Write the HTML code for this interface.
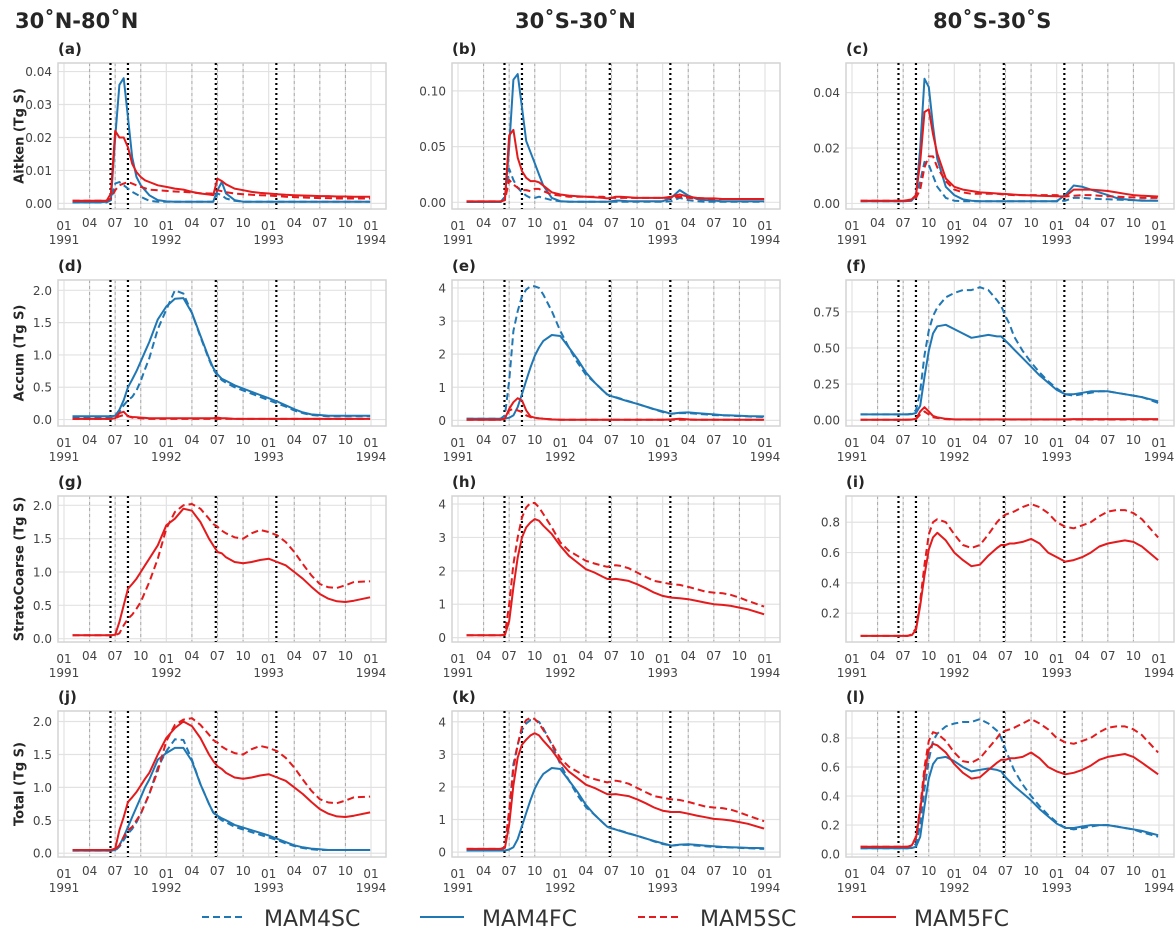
<!DOCTYPE html>
<html><head><meta charset="utf-8"><style>
html,body{margin:0;padding:0;background:#fff;}
svg{display:block;font-family:"DejaVu Sans","Liberation Sans",sans-serif;}
</style></head><body>
<svg id="fig" width="1175" height="929" viewBox="0 0 1175 929" xmlns="http://www.w3.org/2000/svg"></svg>
<script>
// months since Jan 1991
const T=[1,2,3,4,5, 5.5,6,6.5,7,7.5,8,8.5,9,9.5,10, 11,12,13,14,15,16,17, 17.5,18,18.5,19, 20,21,22,23,24,25,26,27,28,29,30,31,32,33,34,35.9];
const xTickMonths=["01","04","07","10"];
const xTickYears=["1991","1992","1993","1994"];
const dottedT=[5.45,7.5,17.8,24.9];
const rowTitles=["Aitken (Tg S)","Accum (Tg S)","StratoCoarse (Tg S)","Total (Tg S)"];
const colTitles=["30˚N-80˚N","30˚S-30˚N","80˚S-30˚S"];
const legendNames=["MAM4SC","MAM4FC","MAM5SC","MAM5FC"];
const r=(v,n)=>Array(n).fill(v);
// (a)
const a4sc=[...r(0.0003,5),0.001,0.006,0.0065,0.0055,0.0045,0.0035,0.0028,0.002,0.0014,0.0008,...r(0.0005,7),0.0005,0.003,0.0025,0.0015,0.0008,...r(0.0005,15)];
const a4fc=[0.0003,0.0003,0.0003,0.0003,0.0005,0.001,0.02,0.036,0.038,0.026,0.014,0.008,0.0055,0.004,0.0025,0.001,0.0006,0.0005,0.0005,0.0005,0.0005,0.0005,0.0005,0.004,0.0065,0.003,0.001,...r(0.0005,15)];
const a5sc=[...r(0.0008,5),0.0015,0.004,0.0055,0.006,0.0065,0.006,0.0055,0.005,0.0046,0.0042,0.004,0.0038,0.0036,0.0035,0.0033,0.0031,0.003,0.003,0.004,0.0037,0.0034,0.003,0.0028,0.0026,0.0025,0.0024,0.0022,0.002,0.0019,0.0018,0.0017,0.0016,0.0016,0.0015,0.0015,0.0015,0.0015];
const a5fc=[...r(0.0008,5),0.003,0.022,0.02,0.02,0.017,0.012,0.0095,0.008,0.007,0.0065,0.0055,0.005,0.0045,0.0042,0.0035,0.003,0.0027,0.0025,0.0075,0.0068,0.0058,0.0045,0.004,0.0035,0.0032,0.003,0.0028,0.0026,0.0025,0.0024,0.0023,0.0022,0.0022,0.0021,0.0021,0.002,0.002];
// (b)
const b4sc=[...r(0.0003,5),0.005,0.03,0.02,0.013,0.009,0.006,0.004,0.004,0.005,0.004,0.002,0.001,...r(0.0005,5),...r(0.0005,4),...r(0.0005,5),0.001,0.004,0.002,0.001,...r(0.0005,7)];
const b4fc=[...r(0.0003,5),0.003,0.05,0.11,0.115,0.085,0.055,0.045,0.035,0.025,0.015,0.004,0.001,0.0006,0.0005,0.0005,0.0005,0.0005,0.0005,0.001,0.0015,0.0015,0.001,0.001,0.001,0.001,0.001,0.004,0.011,0.006,0.003,0.002,0.0015,0.001,0.001,0.001,0.001,0.001];
const b5sc=[...r(0.0008,5),0.002,0.02,0.016,0.013,0.011,0.011,0.01,0.012,0.012,0.01,0.007,0.006,...r(0.005,5),...r(0.004,4),0.004,0.004,0.004,0.004,0.004,0.004,0.005,0.004,0.0035,0.0035,0.003,0.003,0.003,0.003,0.003,0.003];
const b5fc=[...r(0.0008,5),0.002,0.06,0.065,0.04,0.028,0.022,0.019,0.019,0.018,0.015,0.009,0.007,0.006,0.0055,0.005,0.0045,0.004,0.0035,0.004,0.005,0.005,0.0045,0.004,0.004,0.004,0.004,0.005,0.007,0.005,0.004,0.0035,0.0035,0.003,0.003,0.003,0.003,0.003];
// (c)
const c4sc=[...r(0.0008,5),0.0008,0.0008,0.0009,0.001,0.002,0.008,0.015,0.014,0.01,0.006,0.002,0.001,...r(0.0008,5),...r(0.0008,4),...r(0.0008,5),0.001,0.002,0.002,0.0018,0.0016,0.0015,0.0014,0.0013,0.0012,0.0011,0.001];
const c4fc=[...r(0.0008,5),0.0008,0.0008,0.0009,0.001,0.003,0.02,0.045,0.042,0.028,0.016,0.006,0.003,0.0015,0.001,0.0008,0.0008,0.0008,...r(0.0008,4),0.0008,0.0008,0.0008,0.0008,0.0008,0.003,0.0065,0.006,0.005,0.004,0.003,0.002,0.0015,0.0012,0.001,0.001];
const c5sc=[...r(0.001,5),0.001,0.001,0.001,0.0012,0.002,0.005,0.013,0.017,0.017,0.013,0.008,0.005,0.004,0.0035,0.0035,0.0035,0.0035,0.0033,0.0032,0.0031,0.003,0.003,0.003,0.003,0.003,0.003,0.0025,0.0028,0.003,0.003,0.0028,0.0026,0.0025,0.0023,0.0022,0.002,0.002];
const c5fc=[...r(0.001,5),0.001,0.001,0.0012,0.0015,0.003,0.015,0.033,0.034,0.025,0.018,0.009,0.006,0.005,0.0045,0.004,0.0038,0.0036,0.0035,0.0034,0.0033,0.0032,0.003,0.0029,0.0028,0.0027,0.0026,0.0025,0.005,0.005,0.005,0.0048,0.0045,0.004,0.0035,0.003,0.0028,0.0025];
// (d)
const d4sc=[...r(0.04,5),0.04,0.05,0.12,0.22,0.3,0.35,0.45,0.6,0.78,0.95,1.4,1.7,2.0,1.95,1.65,1.28,0.93,0.78,0.68,0.61,0.57,0.5,0.45,0.4,0.35,0.3,0.25,0.2,0.14,0.1,0.07,0.06,0.05,0.05,0.05,0.05,0.05];
const d4fc=[...r(0.05,5),0.05,0.06,0.15,0.3,0.5,0.62,0.75,0.9,1.05,1.2,1.55,1.75,1.87,1.88,1.65,1.3,0.95,0.8,0.7,0.63,0.6,0.53,0.48,0.43,0.38,0.33,0.28,0.22,0.16,0.11,0.08,0.07,0.06,0.06,0.06,0.06,0.06];
const d5sc=[...r(0.01,5),0.01,0.02,0.05,0.07,0.05,0.03,0.025,0.02,0.015,0.01,...r(0.01,7),...r(0.01,4),...r(0.01,16)];
const d5fc=[...r(0.01,5),0.01,0.02,0.1,0.12,0.05,0.04,0.035,0.03,0.025,0.02,...r(0.02,7),0.02,0.03,0.02,0.02,...r(0.01,16)];
// (e)
const e4sc=[...r(0.05,5),0.15,1.2,2.7,3.3,3.75,3.95,4.05,4.05,4.0,3.8,3.3,2.7,2.2,1.75,1.38,1.15,0.9,0.78,0.73,0.7,0.66,0.58,0.5,0.42,0.33,0.25,0.2,0.22,0.22,0.2,0.18,0.16,0.15,0.14,0.13,0.12,0.1];
const e4fc=[...r(0.05,5),0.05,0.08,0.15,0.4,0.8,1.2,1.6,1.95,2.2,2.4,2.58,2.55,2.2,1.85,1.45,1.15,0.9,0.78,0.73,0.69,0.65,0.57,0.5,0.42,0.34,0.27,0.2,0.23,0.24,0.22,0.2,0.18,0.16,0.15,0.14,0.13,0.12];
const e5sc=[...r(0.02,5),0.05,0.3,0.35,0.3,0.25,0.15,0.1,0.07,0.06,0.05,0.03,...r(0.02,6),...r(0.02,4),...r(0.02,16)];
const e5fc=[...r(0.02,5),0.05,0.35,0.55,0.67,0.6,0.3,0.12,0.08,0.06,0.05,0.03,...r(0.02,6),...r(0.02,4),...r(0.02,5),0.03,0.05,0.03,...r(0.02,8)];
// (f)
const f4sc=[...r(0.04,5),0.04,0.04,0.04,0.045,0.07,0.2,0.45,0.62,0.72,0.78,0.85,0.88,0.9,0.9,0.92,0.9,0.83,0.79,0.72,0.66,0.58,0.48,0.4,0.33,0.27,0.22,0.18,0.17,0.18,0.19,0.2,0.2,0.19,0.18,0.17,0.16,0.12];
const f4fc=[...r(0.04,5),0.04,0.04,0.04,0.042,0.05,0.1,0.3,0.48,0.6,0.65,0.66,0.63,0.6,0.57,0.58,0.59,0.58,0.58,0.55,0.52,0.49,0.43,0.37,0.31,0.26,0.21,0.18,0.18,0.19,0.2,0.2,0.2,0.19,0.18,0.17,0.16,0.13];
const f5sc=[...r(0.003,5),0.003,0.003,0.003,0.004,0.008,0.04,0.06,0.04,0.02,0.015,0.008,...r(0.005,6),...r(0.005,4),...r(0.005,16)];
const f5fc=[...r(0.003,5),0.003,0.003,0.004,0.005,0.01,0.06,0.09,0.06,0.03,0.02,0.01,...r(0.006,6),...r(0.006,4),...r(0.006,6),...r(0.008,10)];
// (g)
const g5sc=[...r(0.05,5),0.05,0.05,0.08,0.2,0.3,0.36,0.45,0.55,0.7,0.85,1.2,1.65,1.9,2.0,2.02,1.95,1.8,1.72,1.68,1.62,1.58,1.52,1.5,1.58,1.63,1.6,1.55,1.45,1.3,1.12,0.95,0.82,0.77,0.76,0.8,0.85,0.86];
const g5fc=[...r(0.05,5),0.05,0.06,0.25,0.5,0.75,0.82,0.9,1.0,1.1,1.2,1.4,1.7,1.8,1.95,1.92,1.75,1.5,1.4,1.3,1.28,1.22,1.15,1.13,1.15,1.18,1.2,1.15,1.1,1.0,0.9,0.78,0.67,0.6,0.56,0.55,0.57,0.62];
// (h)
const h5sc=[...r(0.07,5),0.1,1.0,2.2,3.0,3.6,3.9,4.03,4.03,3.9,3.7,3.3,2.85,2.6,2.45,2.3,2.22,2.15,2.12,2.15,2.17,2.15,2.08,1.95,1.82,1.7,1.65,1.6,1.58,1.52,1.45,1.38,1.35,1.33,1.28,1.2,1.1,0.93];
const h5fc=[...r(0.07,5),0.08,0.5,1.5,2.4,3.0,3.3,3.45,3.55,3.5,3.35,3.1,2.75,2.45,2.25,2.05,1.95,1.82,1.76,1.75,1.76,1.74,1.7,1.6,1.48,1.35,1.25,1.2,1.18,1.15,1.1,1.05,1.0,0.98,0.95,0.9,0.85,0.7];
// (i)
const i5sc=[...r(0.05,5),0.05,0.05,0.05,0.06,0.1,0.28,0.52,0.72,0.8,0.82,0.8,0.72,0.65,0.63,0.65,0.72,0.8,0.83,0.85,0.86,0.87,0.9,0.92,0.9,0.86,0.8,0.77,0.76,0.78,0.8,0.84,0.87,0.88,0.88,0.86,0.82,0.7];
const i5fc=[...r(0.05,5),0.05,0.05,0.05,0.055,0.09,0.25,0.45,0.62,0.7,0.73,0.68,0.6,0.55,0.51,0.52,0.58,0.63,0.65,0.65,0.66,0.66,0.67,0.69,0.66,0.6,0.57,0.54,0.55,0.57,0.6,0.64,0.66,0.67,0.68,0.67,0.64,0.55];
// (j)
const j4sc=[...r(0.04,5),0.04,0.04,0.1,0.2,0.3,0.37,0.47,0.6,0.75,0.9,1.3,1.55,1.73,1.72,1.42,1.05,0.75,0.62,0.55,0.5,0.47,0.4,0.36,0.32,0.28,0.24,0.2,0.15,0.11,0.08,0.06,0.05,0.05,0.05,0.05,0.05,0.05];
const j4fc=[...r(0.04,5),0.04,0.05,0.12,0.25,0.4,0.55,0.7,0.85,1.0,1.12,1.42,1.52,1.6,1.6,1.4,1.05,0.75,0.62,0.57,0.53,0.5,0.43,0.39,0.35,0.31,0.27,0.22,0.17,0.12,0.09,0.07,0.06,0.05,0.05,0.05,0.05,0.05];
const j5sc=[...r(0.05,5),0.05,0.06,0.12,0.25,0.35,0.4,0.5,0.6,0.75,0.9,1.25,1.7,1.95,2.03,2.05,1.95,1.8,1.72,1.68,1.62,1.58,1.52,1.5,1.58,1.63,1.6,1.55,1.45,1.3,1.12,0.95,0.82,0.77,0.76,0.8,0.85,0.86];
const j5fc=[...r(0.05,5),0.05,0.07,0.35,0.55,0.78,0.85,0.93,1.03,1.13,1.22,1.5,1.75,1.9,2.0,1.93,1.75,1.5,1.4,1.32,1.28,1.22,1.15,1.13,1.15,1.18,1.2,1.15,1.1,1.0,0.9,0.78,0.67,0.6,0.56,0.55,0.57,0.62];
// (k)
const k4sc=[...r(0.05,5),0.15,1.2,2.7,3.3,3.75,3.95,4.05,4.05,4.0,3.8,3.3,2.7,2.2,1.75,1.38,1.15,0.9,0.78,0.73,0.7,0.66,0.58,0.5,0.42,0.33,0.25,0.2,0.22,0.22,0.2,0.18,0.16,0.15,0.14,0.13,0.12,0.1];
const k4fc=[...r(0.05,5),0.05,0.08,0.15,0.4,0.8,1.2,1.6,1.95,2.2,2.4,2.58,2.55,2.2,1.85,1.45,1.15,0.9,0.78,0.73,0.69,0.65,0.57,0.5,0.42,0.34,0.27,0.2,0.23,0.24,0.22,0.2,0.18,0.16,0.15,0.14,0.13,0.12];
const k5sc=[...r(0.1,5),0.15,1.3,2.55,3.3,3.85,4.05,4.12,4.08,3.95,3.75,3.33,2.88,2.62,2.47,2.32,2.24,2.17,2.14,2.17,2.19,2.17,2.1,1.97,1.84,1.72,1.67,1.62,1.6,1.54,1.47,1.4,1.37,1.35,1.3,1.22,1.12,0.95];
const k5fc=[...r(0.1,5),0.13,0.85,2.05,2.9,3.3,3.45,3.58,3.65,3.58,3.42,3.13,2.77,2.47,2.27,2.07,1.97,1.84,1.78,1.77,1.78,1.76,1.72,1.62,1.5,1.37,1.27,1.23,1.23,1.18,1.12,1.07,1.02,1.0,0.97,0.92,0.87,0.72];
// (l)
const l4sc=[...r(0.04,5),0.04,0.04,0.04,0.045,0.07,0.2,0.45,0.65,0.78,0.83,0.88,0.9,0.91,0.91,0.93,0.9,0.85,0.8,0.72,0.65,0.58,0.48,0.4,0.33,0.27,0.22,0.18,0.17,0.18,0.19,0.2,0.2,0.19,0.18,0.17,0.15,0.12];
const l4fc=[...r(0.04,5),0.04,0.04,0.04,0.042,0.05,0.12,0.33,0.52,0.62,0.66,0.67,0.64,0.6,0.57,0.58,0.59,0.58,0.57,0.53,0.5,0.47,0.42,0.37,0.31,0.26,0.21,0.18,0.18,0.19,0.2,0.2,0.2,0.19,0.18,0.17,0.16,0.13];
const l5sc=[...r(0.05,5),0.05,0.05,0.05,0.06,0.12,0.32,0.6,0.78,0.84,0.83,0.78,0.7,0.64,0.63,0.66,0.73,0.8,0.84,0.85,0.86,0.87,0.9,0.93,0.9,0.86,0.8,0.77,0.76,0.78,0.8,0.84,0.87,0.88,0.88,0.86,0.82,0.7];
const l5fc=[...r(0.05,5),0.05,0.05,0.05,0.06,0.11,0.3,0.55,0.72,0.76,0.75,0.7,0.62,0.56,0.52,0.53,0.58,0.63,0.65,0.65,0.66,0.66,0.67,0.7,0.66,0.6,0.57,0.55,0.56,0.58,0.61,0.65,0.67,0.68,0.69,0.67,0.63,0.55];

const BLUE="#1f77b4", RED="#e41a1c";
const colX=[58,452,846], rowY=[63,280,496,711], PW=328, PH=146;
const panels=[
 {lab:"a",c:0,r:0,y0:-0.0017,y1:0.0426,ticks:[0,0.01,0.02,0.03,0.04],d:2,s:[a4sc,a4fc,a5sc,a5fc]},
 {lab:"b",c:1,r:0,y0:-0.006,y1:0.125,ticks:[0,0.05,0.10],d:2,s:[b4sc,b4fc,b5sc,b5fc]},
 {lab:"c",c:2,r:0,y0:-0.002,y1:0.0507,ticks:[0,0.02,0.04],d:2,s:[c4sc,c4fc,c5sc,c5fc]},
 {lab:"d",c:0,r:1,y0:-0.1,y1:2.16,ticks:[0,0.5,1,1.5,2],d:1,s:[d4sc,d4fc,d5sc,d5fc]},
 {lab:"e",c:1,r:1,y0:-0.17,y1:4.24,ticks:[0,1,2,3,4],d:0,s:[e4sc,e4fc,e5sc,e5fc]},
 {lab:"f",c:2,r:1,y0:-0.04,y1:0.97,ticks:[0,0.25,0.5,0.75],d:2,s:[f4sc,f4fc,f5sc,f5fc]},
 {lab:"g",c:0,r:2,y0:-0.05,y1:2.14,ticks:[0,0.5,1,1.5,2],d:1,s:[null,null,g5sc,g5fc]},
 {lab:"h",c:1,r:2,y0:-0.13,y1:4.24,ticks:[0,1,2,3,4],d:0,s:[null,null,h5sc,h5fc]},
 {lab:"i",c:2,r:2,y0:0.01,y1:0.973,ticks:[0.2,0.4,0.6,0.8],d:1,s:[null,null,i5sc,i5fc]},
 {lab:"j",c:0,r:3,y0:-0.057,y1:2.16,ticks:[0,0.5,1,1.5,2],d:1,s:[j4sc,j4fc,j5sc,j5fc]},
 {lab:"k",c:1,r:3,y0:-0.15,y1:4.33,ticks:[0,1,2,3,4],d:0,s:[k4sc,k4fc,k5sc,k5fc]},
 {lab:"l",c:2,r:3,y0:-0.02,y1:0.986,ticks:[0,0.2,0.4,0.6,0.8],d:1,s:[l4sc,l4fc,l5sc,l5fc]}
];
const styles=[{c:BLUE,dash:"7,4"},{c:BLUE,dash:""},{c:RED,dash:"7,4"},{c:RED,dash:""}];
const NS="http://www.w3.org/2000/svg", svg=document.getElementById("fig");
function mk(tag,attrs,parent){const e=document.createElementNS(NS,tag);for(const k in attrs)e.setAttribute(k,attrs[k]);(parent||svg).appendChild(e);return e;}
function txt(str,attrs,parent){const e=mk("text",attrs,parent);e.textContent=str;return e;}

colTitles.forEach((t,i)=>{
  const e=txt(t,{x:[15,515,933][i],y:28,"font-size":21,"font-weight":"bold",fill:"#262626"});
  
  
});

panels.forEach(p=>{
  const L=colX[p.c], Tp=rowY[p.r];
  const g=mk("g",{});
  
  
  const xs=t=>L+6+t*307/36;
  const ys=v=>Tp+PH-(v-p.y0)/(p.y1-p.y0)*PH;
  for(let m=0;m<=36;m+=3){
    const gl=mk("line",{x1:xs(m),x2:xs(m),y1:Tp,y2:Tp+PH,stroke:"#e2e2e2","stroke-width":1.2},g);
    
    
  }
  p.ticks.forEach(v=>{
    const gl=mk("line",{x1:L,x2:L+PW,y1:ys(v),y2:ys(v),stroke:"#e2e2e2","stroke-width":1.2},g);
    
    
    const tl=txt(v.toFixed(p.d),{x:L-6,y:ys(v)+4.5,"text-anchor":"end","font-size":12,fill:"#444"},g);
    
    
  });
  for(let m=3;m<36;m+=3){ if(m%12===0) continue;
    const dl=mk("line",{x1:xs(m),x2:xs(m),y1:Tp,y2:Tp+PH,stroke:"#aaa","stroke-width":1,"stroke-dasharray":"3,3"},g);
    
    
  }
  const fr=mk("rect",{x:L,y:Tp,width:PW,height:PH,fill:"none",stroke:"#d4d4d4","stroke-width":1.5},g);
  
  
  for(let m=0;m<=36;m+=3){
    const jan=m%12===0;
    const tl=txt(xTickMonths[(m/3)%4],{x:xs(m),y:Tp+PH+(jan?21:18),"text-anchor":"middle","font-size":12,fill:"#444"},g);
    
    
    if(jan){
      const yl=txt(xTickYears[m/12],{x:xs(m),y:Tp+PH+35,"text-anchor":"middle","font-size":12,fill:"#444"},g);
      
      
    }
  }
  dottedT.forEach(t=>{
    const dl=mk("line",{x1:xs(t),x2:xs(t),y1:Tp,y2:Tp+PH,stroke:"#000","stroke-width":2.2,"stroke-dasharray":"2,3"},g);
    
    
  });
  p.s.forEach((arr,k)=>{
    if(!arr) return;
    const d=arr.map((v,i)=>(i?"L":"M")+xs(T[i]).toFixed(1)+","+ys(v).toFixed(1)).join("");
    const path=mk("path",{d:d,fill:"none",stroke:styles[k].c,"stroke-width":2,"stroke-linejoin":"round"},g);
    if(styles[k].dash) path.setAttribute("stroke-dasharray",styles[k].dash);
    
    
  });
  const pl=txt("("+p.lab+")",{x:L,y:Tp-9,"font-size":15,"font-weight":"bold",fill:"#262626"},g);
  
  
  if(p.c===0){
    const cy=Tp+PH/2;
    const yt=txt(rowTitles[p.r],{x:20,y:cy,"text-anchor":"middle","font-size":13,"font-weight":"bold",fill:"#262626",transform:"rotate(-90 20 "+cy+")","dominant-baseline":"middle"},g);
    
    
  }
});
const lg=mk("g",{});


const legX=[202,420,638,852];
legendNames.forEach((n,k)=>{
  const ln=mk("line",{x1:legX[k],x2:legX[k]+44,y1:917,y2:917,stroke:styles[k].c,"stroke-width":2},lg);
  if(styles[k].dash) ln.setAttribute("stroke-dasharray","7,4");
  
  
  const t=txt(n,{x:legX[k]+62,y:926,"font-size":22,fill:"#333"},lg);
  
  
});
</script>
</body></html>
